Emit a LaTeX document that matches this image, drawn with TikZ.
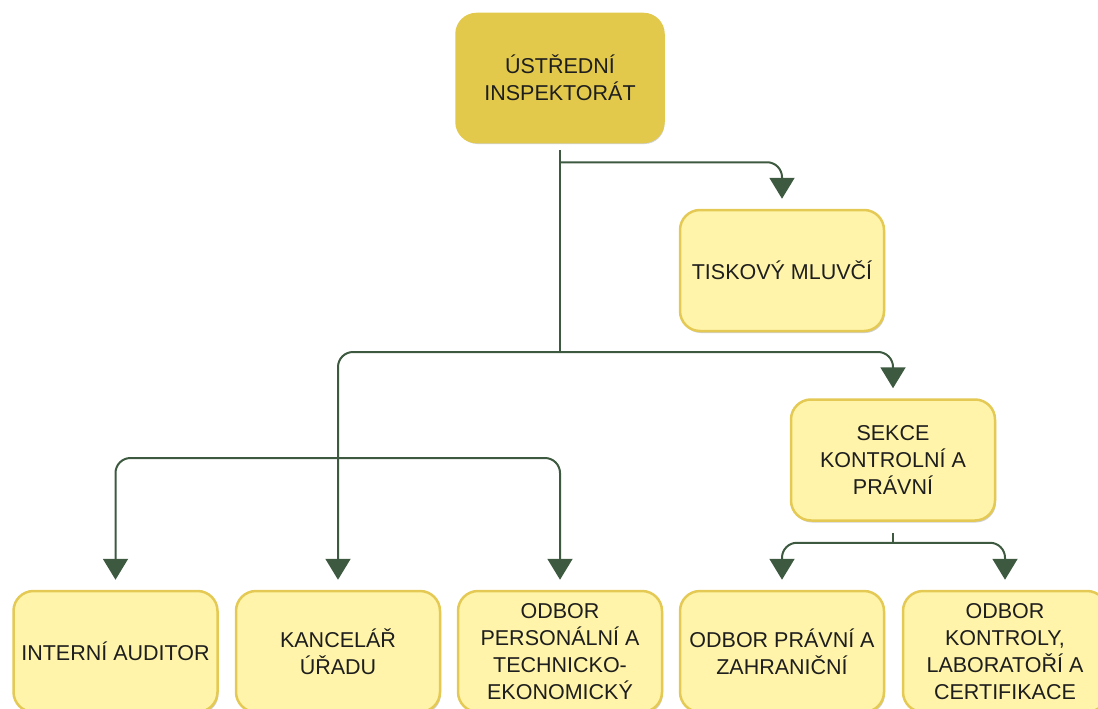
\documentclass[tikz,border=0pt]{standalone}
\usepackage{fontspec}
\setmainfont{Liberation Sans}
\usetikzlibrary{arrows.meta,shadows}

\definecolor{gold}{HTML}{E2C94C}
\definecolor{paleyellow}{HTML}{FFF4A9}
\definecolor{rimgold}{HTML}{E4CA55}
\definecolor{linkgreen}{HTML}{3D5A40}
\definecolor{inkgray}{HTML}{1E1E1E}

\begin{document}
\begin{tikzpicture}[x=1pt,y=-1pt, % pixel units, y pointing down
    unit/.style={draw=rimgold, line width=2.5pt, fill=paleyellow, rounded corners=20pt,
        minimum width=204pt, minimum height=121pt, align=center, text=inkgray,
        font=\fontsize{21.5}{27}\selectfont,
        drop shadow={shadow xshift=1pt, shadow yshift=-2pt, opacity=0.18, fill=black}},
    head/.style={unit, fill=gold, draw=gold, minimum width=207pt, minimum height=128pt},
    link/.style={draw=linkgreen, line width=2pt, rounded corners=15pt},
    tolink/.style={link, -{Triangle[width=25pt,length=21pt]}, shorten >=10pt}]

    % Fix the page to the reference size
    \useasboundingbox (0,0) rectangle (1098,709);

    % Boxes
    \node[head] (top) at (560,78) {ÚSTŘEDNÍ\\INSPEKTORÁT};
    \node[unit] (tisk) at (782,270.5) {TISKOVÝ MLUVČÍ};
    \node[unit] (sekce) at (893,460) {SEKCE\\KONTROLNÍ A\\PRÁVNÍ};

    \node[unit] (audit) at (115.5,651.5) {INTERNÍ AUDITOR};
    \node[unit] (kanc) at (338,651.5) {KANCELÁŘ\\ÚŘADU};
    \node[unit] (personal) at (560,651.5) {ODBOR\\PERSONÁLNÍ A\\TECHNICKO-\\EKONOMICKÝ};
    \node[unit] (pravni) at (782,651.5) {ODBOR PRÁVNÍ A\\ZAHRANIČNÍ};
    \node[unit] (kontrol) at (1005,651.5) {ODBOR\\KONTROLY,\\LABORATOŘÍ A\\CERTIFIKACE};

    % Branch points
    \coordinate (hub) at (560,352);
    \coordinate (hub2) at (338,458);
    \coordinate (hub3) at ([yshift=-21pt]sekce.south);

    % Connectors
    \draw[link] ([yshift=-7pt]top.south) -- (hub);
    \draw[tolink] ([yshift=-19pt]top.south) -| (tisk.north);
    \foreach \dest in {kanc,sekce} {
        \draw[tolink] (hub) -| (\dest.north);
    }
    \foreach \dest in {audit,personal} {
        \draw[tolink] (hub2) -| (\dest.north);
    }
    \draw[link] ([yshift=-11pt]sekce.south) -- (hub3);
    \foreach \dest in {pravni,kontrol} {
        \draw[tolink] (hub3) -| (\dest.north);
    }

\end{tikzpicture}
\end{document}
